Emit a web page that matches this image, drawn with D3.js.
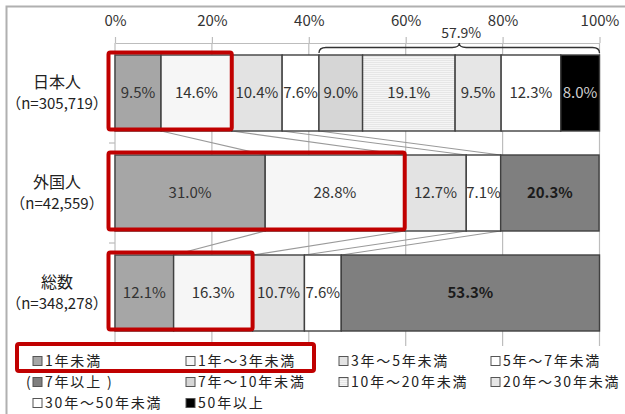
<!DOCTYPE html>
<html><head><meta charset="utf-8">
<script src="https://cdn.jsdelivr.net/npm/d3@7"></script>
<style>
html,body{margin:0;padding:0;background:#fff;}
svg{display:block;font-family:"Noto Sans CJK JP","Noto Sans",sans-serif;}
</style></head>
<body><svg id="c" width="625" height="414"></svg>
<script>
// ---- data ----
const categories = ["日本人", "外国人", "総数"];
const nLabels = ["（n=305,719）", "（n=42,559）", "（n=348,278）"];
const seriesNames = ["1年未満", "1年～3年未満", "3年～5年未満", "5年～7年未満", "7年以上",
  "7年～10年未満", "10年～20年未満", "20年～30年未満", "30年～50年未満", "50年以上"];
const seriesColors = ["#a6a6a6", "#f6f6f6", "#e3e3e3", "#ffffff", "#7f7f7f",
  "#d6d6d6", "url(#hatch)", "#e6e6e6", "#ffffff", "#000000"];
const japaneseKeys = [0, 1, 2, 3, 5, 6, 7, 8, 9];
const japaneseValues = [9.5, 14.6, 10.4, 7.6, 9.0, 19.1, 9.5, 12.3, 8.0];
const otherKeys = [0, 1, 2, 3, 4];
const foreignValues = [31.0, 28.8, 12.7, 7.1, 20.3];
const totalValues = [12.1, 16.3, 10.7, 7.6, 53.3];
const braceLabel = "57.9%";
const tickValues = [0, 20, 40, 60, 80, 100];
const legendRows = [
  [{k:0,t:"1年未満"},{k:1,t:"1年～3年未満"},{k:2,t:"3年～5年未満"},{k:3,t:"5年～7年未満"}],
  [{k:4,t:"7年以上",paren:true},{k:5,t:"7年～10年未満"},{k:6,t:"10年～20年未満"},{k:7,t:"20年～30年未満"}],
  [{k:8,t:"30年～50年未満"},{k:9,t:"50年以上"}]
];

const rows = [
  {cat: categories[0], keys: japaneseKeys, vals: japaneseValues},
  {cat: categories[1], keys: otherKeys, vals: foreignValues},
  {cat: categories[2], keys: otherKeys, vals: totalValues}
];
rows.forEach(r => {
  let c = 0;
  r.segs = r.vals.map((v, i) => { const s = {key: r.keys[i], v, x0: c, x1: c + v}; c += v; return s; });
});

const svg = d3.select("#c");
const defs = svg.append("defs");
const pat = defs.append("pattern").attr("id", "hatch").attr("patternUnits", "userSpaceOnUse")
  .attr("width", 4).attr("height", 2);
pat.append("rect").attr("width", 4).attr("height", 2).attr("fill", "#f5f5f5");
pat.append("rect").attr("width", 4).attr("height", 0.6).attr("fill", "#dcdcdc");

// frame
svg.append("path").attr("d", "M6.5,420 V6.5 H640").attr("fill", "none")
  .attr("stroke", "#b0b0b0").attr("stroke-width", 2);

const x = d3.scaleLinear().domain([0, 100]).range([115, 599.5]);
const y = d3.scaleBand().domain(categories).range([43, 343]).paddingInner(0.24).paddingOuter(0.12);

// gridlines
svg.append("g").selectAll("line").data(tickValues).join("line")
  .attr("x1", d => x(d)).attr("x2", d => x(d)).attr("y1", 43).attr("y2", 346)
  .attr("stroke", "#bdbdbd").attr("stroke-width", 1.2);
// small category ticks at left
svg.append("g").selectAll("line").data([143, 243]).join("line")
  .attr("x1", 109).attr("x2", 115).attr("y1", d => d).attr("y2", d => d)
  .attr("stroke", "#bdbdbd").attr("stroke-width", 1.2);

// axis
const ax = svg.append("g").attr("transform", "translate(0,43)")
  .call(d3.axisTop(x).tickValues(tickValues).tickFormat(d => d + "%").tickSize(6).tickSizeOuter(0).tickPadding(11));
ax.select(".domain").attr("stroke", "#bdbdbd").attr("stroke-width", 1.2);
ax.selectAll(".tick line").attr("stroke", "#bdbdbd").attr("stroke-width", 1.2);
ax.selectAll(".tick text").attr("font-size", 15).attr("fill", "#333")
  .attr("font-family", "'Noto Sans CJK JP', sans-serif");

// series connector lines
for (let i = 0; i < rows.length - 1; i++) {
  const a = rows[i], b = rows[i + 1];
  const aBottom = y(a.cat) + y.bandwidth(), bTop = y(b.cat);
  for (let j = 0; j < 4; j++) {
    svg.append("line").attr("x1", x(a.segs[j].x1)).attr("y1", aBottom)
      .attr("x2", x(b.segs[j].x1)).attr("y2", bTop)
      .attr("stroke", "#9a9a9a").attr("stroke-width", 1.2);
  }
}

// bars
rows.forEach(r => {
  const g = svg.append("g");
  g.selectAll("rect").data(r.segs).join("rect")
    .attr("x", d => x(d.x0)).attr("width", d => x(d.x1) - x(d.x0))
    .attr("y", y(r.cat)).attr("height", y.bandwidth())
    .attr("fill", d => seriesColors[d.key]).attr("stroke", "#404040").attr("stroke-width", 1.4);
  g.selectAll("text").data(r.segs).join("text")
    .attr("x", d => (x(d.x0) + x(d.x1)) / 2).attr("y", y(r.cat) + y.bandwidth() / 2)
    .attr("dy", "0.35em").attr("text-anchor", "middle").attr("font-size", 15)
    .attr("font-weight", d => d.key === 4 ? "bold" : "normal")
    .attr("fill", d => d.key === 9 ? "#d0d0d0" : (d.key === 4 ? "#1a1a1a" : "#333"))
    .text(d => d.v.toFixed(1) + "%");
  // category labels
  svg.append("text").attr("x", 57).attr("y", y(r.cat) + y.bandwidth() / 2 - 11).attr("dy", "0.35em")
    .attr("text-anchor", "middle").attr("font-size", 16).attr("fill", "#222").text(r.cat);
  svg.append("text").attr("x", 57).attr("y", y(r.cat) + y.bandwidth() / 2 + 11).attr("dy", "0.35em")
    .attr("text-anchor", "middle").attr("font-size", 15).attr("fill", "#222")
    .text(nLabels[categories.indexOf(r.cat)]);
});

// brace over 7+ part of 日本人
{
  const r0 = rows[0];
  const xa = x(r0.segs[4].x0), xb = x(100), xm = (xa + xb) / 2;
  const yb = 53, ym = 47.5, yt = 43;
  const p = `M${xa},${yb} Q${xa},${ym} ${xa + 7},${ym} L${xm - 7},${ym} Q${xm},${ym} ${xm},${yt} Q${xm},${ym} ${xm + 7},${ym} L${xb - 7},${ym} Q${xb},${ym} ${xb},${yb}`;
  svg.append("path").attr("d", p).attr("fill", "none").attr("stroke", "#333").attr("stroke-width", 1.3);
  svg.append("text").attr("x", xm + 2).attr("y", 33).attr("dy", "0.35em").attr("text-anchor", "middle")
    .attr("font-size", 14).attr("fill", "#333").text(braceLabel);
}

// red highlight boxes
rows.forEach(r => {
  const yt = y(r.cat), h = y.bandwidth();
  svg.append("rect").attr("x", 108.5).attr("y", yt - 2.5)
    .attr("width", x(r.segs[1].x1) - 108.5).attr("height", h + 1)
    .attr("rx", 2).attr("fill", "none").attr("stroke", "#c00000").attr("stroke-width", 4);
});

// legend
const colX = [32, 185, 338, 490];
const rowY = [361, 382, 403];
legendRows.forEach((row, ri) => {
  row.forEach((it, ci) => {
    const g = svg.append("g").attr("transform", `translate(${colX[ci]},${rowY[ri]})`);
    if (it.paren) {
      g.append("text").attr("x", -6).attr("y", 0).attr("dy", "0.35em").attr("font-size", 14)
        .attr("fill", "#222").text("(");
    }
    g.append("rect").attr("x", 1).attr("y", -4.5).attr("width", 9).attr("height", 9)
      .attr("fill", seriesColors[it.k]).attr("stroke", "#555").attr("stroke-width", 1);
    g.append("text").attr("x", 13).attr("y", 0).attr("dy", "0.35em").attr("font-size", 14)
      .attr("letter-spacing", 1.8)
      .attr("fill", "#222").text(it.t + (it.paren ? " )" : ""));
  });
});
// legend highlight (first row only)
svg.append("rect").attr("x", 17).attr("y", 344).attr("width", 297).attr("height", 27)
  .attr("rx", 2).attr("fill", "none").attr("stroke", "#c00000").attr("stroke-width", 4);
</script></body></html>
